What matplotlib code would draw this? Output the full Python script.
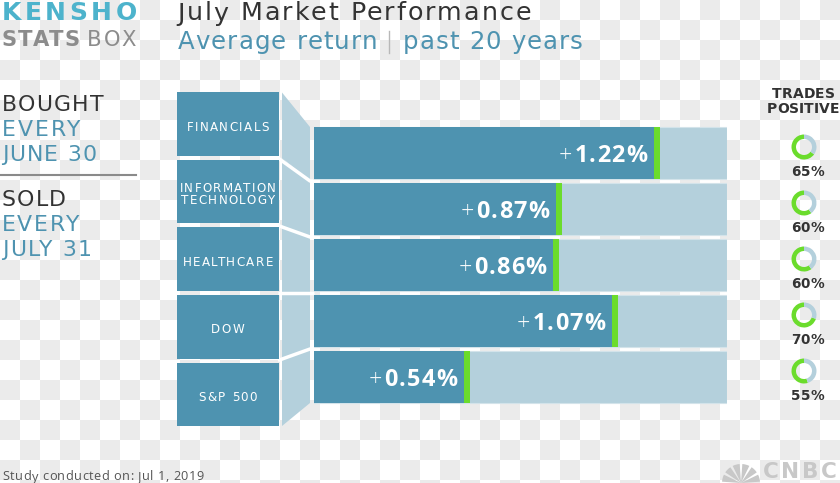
import numpy as np
import matplotlib.pyplot as plt
from matplotlib.colors import ListedColormap
from matplotlib.patches import Polygon, Wedge
from matplotlib.transforms import IdentityTransform

# data
categories = ["FINANCIALS", "INFORMATION\nTECHNOLOGY", "HEALTHCARE", "DOW", "S&P 500"]
avg_return = [1.22, 0.87, 0.86, 1.07, 0.54]
trades_positive = [65, 60, 60, 70, 55]

title = "July Market Performance"
subtitle_left = "Average return"
subtitle_right = "past 20 years"
bought_lines = ["BOUGHT", "EVERY", "JUNE 30"]
sold_lines = ["SOLD", "EVERY", "JULY 31"]
footer = "Study conducted on: Jul 1, 2019"

# look
W, H = 840, 483
DARK = "#4e93b0"
LIGHT = "#b4d0dc"
GREEN = "#6bdc2c"
TEXT = "#333333"
BLUE_TXT = "#4e93b0"
KENSHO = "#4db3cc"
GREY = "#8c8c8c"
TRACK_MAX = 1.48

plt.rcParams['font.family'] = ['DejaVu Sans']

fig = plt.figure(figsize=(W / 100, H / 100), dpi=100)
renderer = fig.canvas.get_renderer()


def px_axes(x0, y0, x1, y1):
    return fig.add_axes([x0 / W, 1 - y1 / H, (x1 - x0) / W, (y1 - y0) / H])


def ink(txt, **kw):
    t = fig.text(0, 0, txt, **kw)
    w = t.get_window_extent(renderer).width
    t.remove()
    return w


def tracked(ax, x, y, s, width=None, track=0.0, ha="left", dx=0, dy=0, **kw):
    # letter-spaced text, baseline at (x, y) of ax; returns left edge in pixels
    full = ink(s, **kw)
    if width is not None and len(s) > 1:
        track = (width - full) / (len(s) - 1)
    total = full + track * (len(s) - 1)
    X, Y = ax.transData.transform((x, y))
    x0 = X + dx - {"left": 0, "center": total / 2, "right": total}[ha]
    for k, ch in enumerate(s):
        if ch == " ":
            continue
        left = ink(s[:k + 1], **kw) - ink(ch, **kw) + track * k
        fig.text(x0 + left, Y + dy, ch, transform=IdentityTransform(),
                 ha="left", va="baseline", **kw)
    return x0


# background checkerboard, pixel coords
bg = px_axes(0, 0, W, H)
rr, cc = np.indices((25, 42))
bg.imshow((rr + cc) % 2, cmap=ListedColormap(["#ffffff", "#ebebeb"]),
          extent=(0, 840, 500, 0), interpolation="nearest")
bg.set_xlim(0, W)
bg.set_ylim(H, 0)
bg.set_aspect("auto")
bg.axis("off")

# header
tracked(bg, 1.7, 20, "KENSHO", width=135, color=KENSHO, fontsize=18, fontweight="bold")
tracked(bg, 1.7, 45.7, "STATS", width=78, color=GREY, fontsize=15.2, fontweight="bold")
tracked(bg, 87, 45.7, "BOX", width=49, color=GREY, fontsize=15.2)
tracked(bg, 177, 20.5, title, width=354, color=TEXT, fontsize=18.3)
tracked(bg, 178.3, 48.8, subtitle_left, width=199.5, color=BLUE_TXT, fontsize=17.6)
bg.plot([389, 389], [31, 53], color="#b8b8b8", lw=1)
tracked(bg, 403, 48.8, subtitle_right, width=179.5, color=BLUE_TXT, fontsize=17.6)

# bought / sold block
left_w = [101.5, 78, 95, 64, 77, 90]
base_y = [110.7, 135.5, 161, 206.5, 231, 256]
for k, s in enumerate(bought_lines + sold_lines):
    tracked(bg, 1.7, base_y[k], s, width=left_w[k],
            color=TEXT if k % 3 == 0 else BLUE_TXT, fontsize=15.8)
bg.plot([0, 136], [175, 175], color="#8a8a8a", lw=1.5)

tracked(bg, 2.5, 480.5, footer, width=201, color="#555555", fontsize=9.2,
        family="Open Sans")

# cnbc mark
for a in range(6):
    bg.add_patch(Wedge((741, 483), 19, 180 + a * 30 + 4, 180 + a * 30 + 26,
                       color="#c8c8c8", lw=0))
tracked(bg, 763, 478, "CNBC", width=74, color="#c8c8c8", fontsize=15.5,
        fontweight="bold")

# category boxes
n = len(categories)
box_top, box_pitch, box_h = 92.5, 67.5, 63.5
axc = px_axes(177, box_top - (box_pitch - box_h) / 2, 278.5,
              box_top - (box_pitch - box_h) / 2 + box_pitch * n)
axc.barh(range(n), [1] * n, height=box_h / box_pitch, color=DARK)
axc.set_xlim(0, 1)
axc.set_ylim(n - 0.5, -0.5)
axc.axis("off")
for i, name in enumerate(categories):
    lines = name.split("\n")
    first = -6.3 if len(lines) == 1 else 0
    for j, ln in enumerate(lines):
        tracked(axc, 0.5, i, ln, track=1.4, ha="center", dy=first - 12.6 * j,
                color="white", fontsize=8.6)

# bars
bar_top, bar_pitch, bar_h = 127, 56, 52
bx0, bx1 = 313.5, 726.5
axb = px_axes(bx0, bar_top - (bar_pitch - bar_h) / 2, bx1,
              bar_top - (bar_pitch - bar_h) / 2 + bar_pitch * n)
y = np.arange(n)
axb.barh(y, [TRACK_MAX] * n, height=bar_h / bar_pitch, color=LIGHT,
         edgecolor="#d3e3ea", lw=0.8)
axb.barh(y, avg_return, height=bar_h / bar_pitch, color=DARK)
green_w = 6 / (bx1 - bx0) * TRACK_MAX
axb.barh(y, [green_w] * n, left=avg_return, height=bar_h / bar_pitch, color=GREEN)
axb.set_xlim(0, TRACK_MAX)
axb.set_ylim(n - 0.5, -0.5)
axb.axis("off")

for i, v in enumerate(avg_return):
    x0 = tracked(axb, v, i, f"{v:.2f}%", track=1.2, ha="right", dx=-7, dy=-8.7,
                 color="white", fontsize=16.8, fontweight="bold", family="Open Sans")
    Y = axb.transData.transform((v, i))[1] - 8.7
    fig.text(x0 - 2, Y, "+", transform=IdentityTransform(), ha="right", va="baseline",
             color="white", fontsize=16.8, fontweight="light", family="Open Sans")

# connector between boxes and bars
cx0, cx1 = 282, 310
L = [box_top + box_pitch * i for i in range(n)]
Lb = [t + box_h for t in L]
R = [bar_top + bar_pitch * i for i in range(n)]
Rb = [t + bar_h for t in R]
left_cuts = [L[0]] + [(Lb[i - 1] + L[i]) / 2 for i in range(1, n)] + [Lb[-1]]
right_cuts = [R[0]] + [(Rb[i - 1] + R[i]) / 2 for i in range(1, n)] + [Rb[-1]]
for i in range(n):
    bg.add_patch(Polygon([(cx0, left_cuts[i]), (cx1, right_cuts[i]),
                          (cx1, right_cuts[i + 1]), (cx0, left_cuts[i + 1])],
                         closed=True, facecolor=LIGHT, edgecolor="none"))
for i in range(1, n):
    bg.plot([cx0 - 4, cx1, bx0], [left_cuts[i], right_cuts[i], right_cuts[i]],
            color="white", lw=2.5, solid_capstyle="butt")

# trades positive donuts
tracked(bg, 803.3, 98.3, "TRADES", width=63, ha="center", color=TEXT,
        fontsize=10, fontweight="bold")
tracked(bg, 802.8, 113.3, "POSITIVE", width=72, ha="center", color=TEXT,
        fontsize=10, fontweight="bold")
axd = px_axes(779, 119, 829, 119 + bar_pitch * n)
for i, p in enumerate(trades_positive):
    cy = -28 - bar_pitch * i
    axd.pie([p, 100 - p], colors=[GREEN, LIGHT], startangle=90, counterclock=True,
            radius=12.5, center=(0, cy), wedgeprops=dict(width=4.5, linewidth=0))
axd.set_xlim(-25, 25)
axd.set_ylim(-bar_pitch * n, 0)
axd.set_aspect("auto")
axd.axis("off")
for i, p in enumerate(trades_positive):
    cy = -28 - bar_pitch * i
    tracked(axd, 3.5, cy - 29, f"{p}%", ha="center", color=TEXT,
            fontsize=9.8, fontweight="bold")

fig.savefig("out.png", dpi=100)
